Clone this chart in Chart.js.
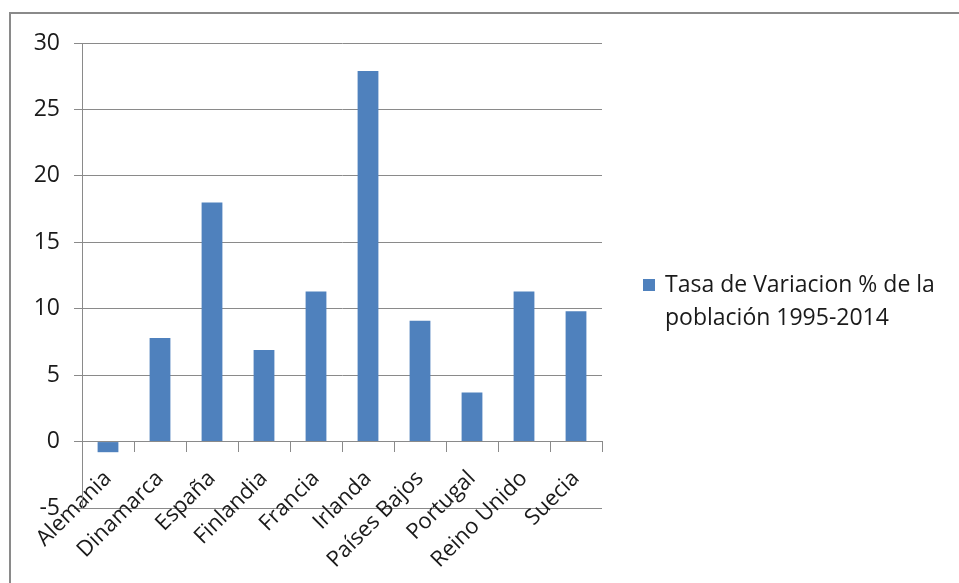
<!DOCTYPE html>
<html>
<head>
<meta charset="utf-8">
<script src="https://cdn.jsdelivr.net/npm/chart.js@4/dist/chart.umd.min.js"></script>
<style>
  html, body { margin: 0; padding: 0; background: #fff; overflow: hidden; }
  #wrap { position: relative; width: 959px; height: 583px; }
  #frame { position: absolute; left: 9px; top: 12px; width: 1000px; height: 1000px; border: 2px solid #8a8a8a; box-sizing: border-box; }
  canvas { position: absolute; left: 0; top: 0; }
  #legend { position: absolute; left: 643px; top: 267px; font-family: "Open Sans", sans-serif; font-size: 23px; line-height: 33px; color: #1a1a1a; }
  #legend .box { position: absolute; left: 0; top: 12px; width: 12px; height: 12px; }
  #legend .txt { margin-left: 22px; white-space: nowrap; }
</style>
</head>
<body>
<div id="wrap">
  <div id="frame"></div>
  <canvas id="c" width="959" height="583"></canvas>
  <div id="legend"></div>
</div>
<script>
const categories = ["Alemania", "Dinamarca", "España", "Finlandia", "Francia", "Irlanda", "Países Bajos", "Portugal", "Reino Unido", "Suecia"];
const values = [-0.8, 7.8, 18.0, 6.9, 11.3, 27.9, 9.1, 3.7, 11.3, 9.8];
const seriesLabel = ["Tasa de Variacion % de la", "población 1995-2014"];
const yTicks = [-5, 0, 5, 10, 15, 20, 25, 30];

const barColor = "#4f81bd";
const gridColor = "#8a8a8a";
const textColor = "#1a1a1a";
const fontFamily = "'Open Sans', sans-serif";

const lg = document.getElementById("legend");
lg.innerHTML = '<span class="box" style="background:' + barColor + '"></span>' +
  seriesLabel.map(t => '<div class="txt">' + t + '</div>').join('');

new Chart(document.getElementById("c"), {
  type: "bar",
  data: {
    labels: categories,
    datasets: [{
      label: seriesLabel.join(" "),
      data: values,
      backgroundColor: barColor,
      borderWidth: 0,
      barPercentage: 0.4,
      categoryPercentage: 1.0
    }]
  },
  options: {
    responsive: false,
    animation: false,
    layout: { padding: { left: 0, top: 43, right: 357, bottom: 75 } },
    plugins: { legend: { display: false }, tooltip: { enabled: false } },
    scales: {
      x: {
        position: { y: 0 },
        grid: { drawOnChartArea: false, drawTicks: true, tickLength: 10, color: gridColor, offset: true },
        border: { display: true, color: gridColor, width: 1 },
        ticks: { minRotation: 45, maxRotation: 45, autoSkip: false, color: textColor, font: { family: fontFamily, size: 22 }, padding: 14 }
      },
      y: {
        min: -5, max: 30,
        afterBuildTicks: (s) => { s.ticks = yTicks.map(v => ({ value: v })); },
        afterFit: (s) => { s.width = 82; },
        grid: { color: gridColor, tickLength: 8, drawTicks: true },
        border: { display: true, color: gridColor },
        ticks: { color: textColor, font: { family: fontFamily, size: 23 }, padding: 14 }
      }
    }
  }
});
</script>
</body>
</html>
